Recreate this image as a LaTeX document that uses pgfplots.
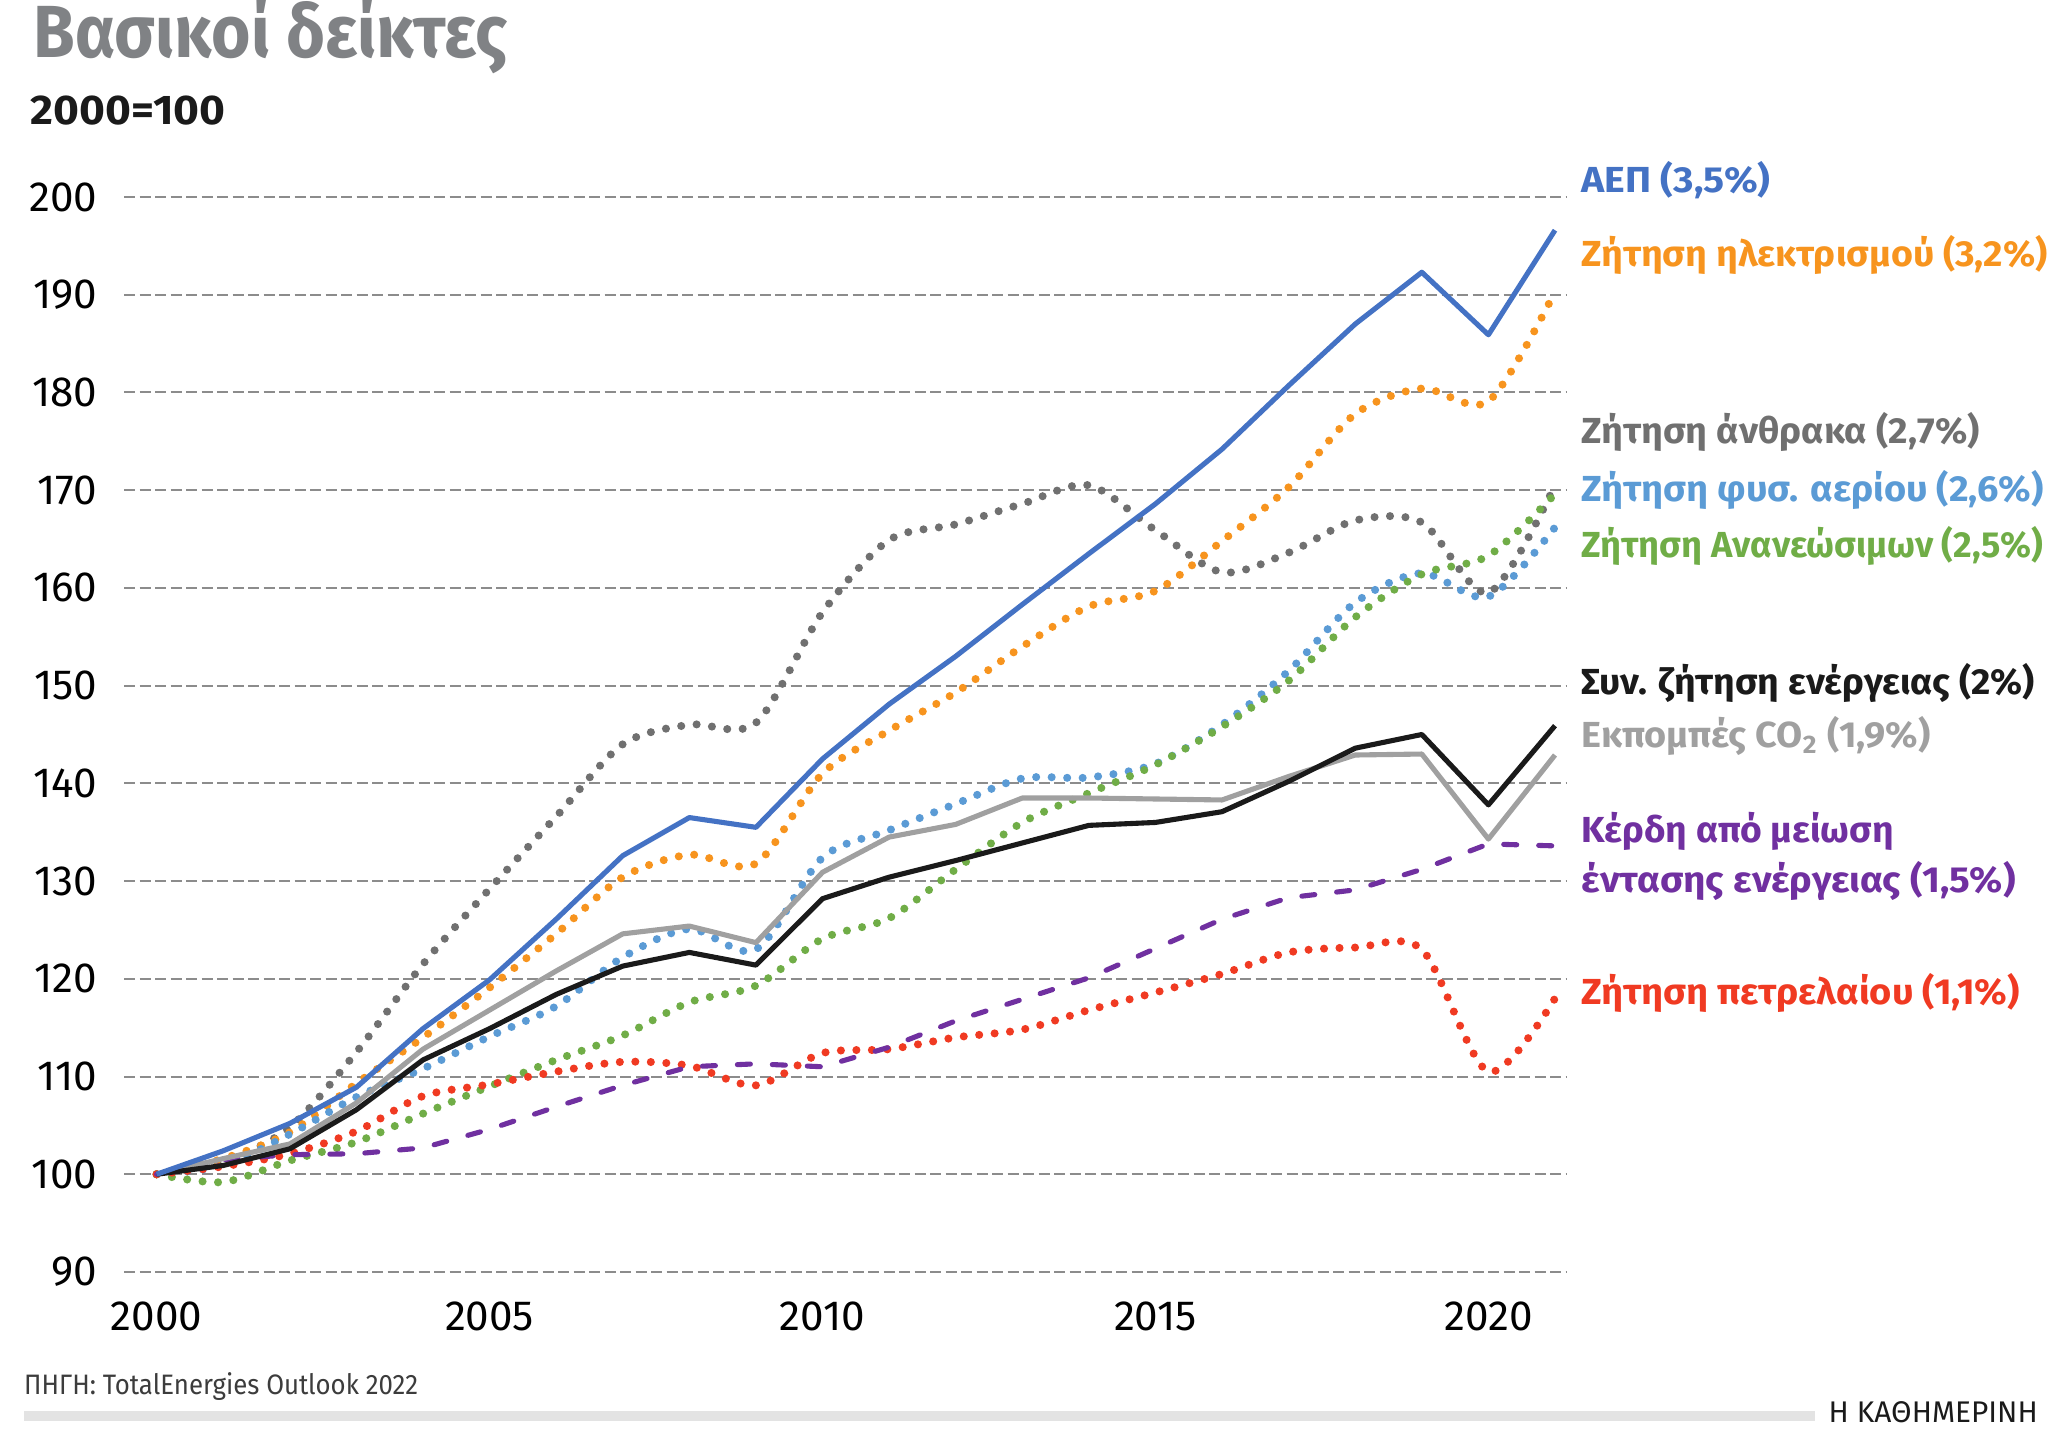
\documentclass[border=0pt]{standalone}
\usepackage{pgfplots}
\pgfplotsset{compat=1.18}
\usepackage{graphicx}
\usepackage{fontspec}
\setmainfont{Fira Sans}

\definecolor{titlegray}{HTML}{808285}
\definecolor{gridgray}{HTML}{8C8C8C}
\definecolor{cAEP}{HTML}{4472C4}
\definecolor{cElec}{HTML}{F7941E}
\definecolor{cCoal}{HTML}{707070}
\definecolor{cGas}{HTML}{5B9BD5}
\definecolor{cRen}{HTML}{70AD47}
\definecolor{cTot}{HTML}{1A1A1A}
\definecolor{cCO}{HTML}{A0A0A0}
\definecolor{cInt}{HTML}{7030A0}
\definecolor{cOil}{HTML}{F03A22}

% squeeze text horizontally to a given width
\newcommand{\fw}[2]{\resizebox{#1}{\height}{#2}}

\begin{document}
\begin{tikzpicture}
\useasboundingbox (0,0) rectangle (20.48cm,14.40cm);

\begin{axis}[
   at={(1.24cm,1.68cm)}, anchor=south west,
   scale only axis,
   width=14.43cm, height=10.75cm,
   xmin=1999.51, xmax=2021.18,
   ymin=90, ymax=200,
   xtick={2000,2005,...,2020},
   ytick={90,100,...,200},
   xtick pos=bottom, ytick pos=left,
   axis line style={draw=none},
   tick style={draw=none},
   ymajorgrids,
   grid style={color=gridgray, line width=0.55pt, dash pattern=on 1.1mm off 0.45mm},
   /pgf/number format/1000 sep={},
   /pgf/number format/assume math mode=true,
   ticklabel style={font=\fontsize{12}{14}\selectfont, text=black},
   xticklabel style={anchor=center, yshift=-4.4mm},
   yticklabel style={anchor=east, inner sep=0pt, xshift=-2.6mm},
   clip=false,
   dotline/.style={line width=2.3pt, line cap=round, dash pattern=on 0pt off 1.55mm, smooth},
   solidline/.style={line width=1.45pt, line join=round},
]

% Ζήτηση άνθρακα
\addplot[dotline, cCoal] coordinates {
 (2000,100) (2001,101.3) (2002,104.8) (2003,112.5) (2004,121.5) (2005,129.2)
 (2006,136.6) (2007,144.0) (2008,146.0) (2009,146.2) (2010,157.5) (2011,164.9)
 (2012,166.5) (2013,168.6) (2014,170.5) (2015,165.9) (2016,161.6) (2017,163.6)
 (2018,166.9) (2019,166.7) (2020,159.5) (2021,170.5)
};
% Ζήτηση ηλεκτρισμού
\addplot[dotline, cElec] coordinates {
 (2000,100) (2001,101.6) (2002,104.3) (2003,109.3) (2004,114.0) (2005,119.1)
 (2006,124.6) (2007,130.4) (2008,132.7) (2009,131.8) (2010,141.0) (2011,145.4)
 (2012,149.3) (2013,154.0) (2014,158.1) (2015,159.7) (2016,164.8) (2017,170.3)
 (2018,177.8) (2019,180.4) (2020,179.1) (2021,190.3)
};
% Ζήτηση φυσ. αερίου
\addplot[dotline, cGas] coordinates {
 (2000,100) (2001,100.9) (2002,104.1) (2003,107.9) (2004,110.8) (2005,114.1)
 (2006,117.2) (2007,122.2) (2008,125.1) (2009,123.0) (2010,132.4) (2011,135.2)
 (2012,137.9) (2013,140.5) (2014,140.6) (2015,142.0) (2016,146.0) (2017,151.5)
 (2018,158.5) (2019,161.5) (2020,159.1) (2021,166.2)
};
% Ζήτηση Ανανεώσιμων
\addplot[dotline, cRen] coordinates {
 (2000,100) (2001,99.2) (2002,101.4) (2003,103.3) (2004,106.2) (2005,109.0)
 (2006,111.7) (2007,114.2) (2008,117.6) (2009,119.3) (2010,124.1) (2011,126.2)
 (2012,131.2) (2013,136.0) (2014,139.0) (2015,141.9) (2016,145.8) (2017,150.5)
 (2018,157.0) (2019,161.4) (2020,163.3) (2021,169.6)
};
% Ζήτηση πετρελαίου
\addplot[dotline, cOil] coordinates {
 (2000,100) (2001,100.8) (2002,102.1) (2003,104.4) (2004,108.0) (2005,109.2)
 (2006,110.5) (2007,111.5) (2008,111.1) (2009,109.1) (2010,112.4) (2011,112.8)
 (2012,114.0) (2013,114.8) (2014,116.8) (2015,118.6) (2016,120.5) (2017,122.7)
 (2018,123.2) (2019,123.0) (2020,110.5) (2021,118.0)
};
% Κέρδη από μείωση έντασης ενέργειας
\addplot[cInt, line width=1.45pt, line cap=round, dash pattern=on 1.3mm off 2.2mm] coordinates {
 (2000,100) (2001,101.5) (2002,102.0) (2003,102.1) (2004,102.7) (2005,104.6)
 (2006,106.9) (2007,109.1) (2008,111.0) (2009,111.3) (2010,111.0) (2011,113.0)
 (2012,115.7) (2013,117.9) (2014,120.1) (2015,123.1) (2016,126.1) (2017,128.3)
 (2018,129.1) (2019,131.2) (2020,133.8) (2021,133.6)
};
% Εκπομπές CO2
\addplot[solidline, cCO] coordinates {
 (2000,100) (2001,101.6) (2002,103.1) (2003,107.3) (2004,112.8) (2005,116.8)
 (2006,120.8) (2007,124.6) (2008,125.4) (2009,123.7) (2010,130.9) (2011,134.5)
 (2012,135.8) (2013,138.5) (2014,138.5) (2015,138.4) (2016,138.3) (2017,140.7)
 (2018,142.9) (2019,143.0) (2020,134.3) (2021,142.9)
};
% Συν. ζήτηση ενέργειας
\addplot[solidline, cTot] coordinates {
 (2000,100) (2001,100.9) (2002,102.6) (2003,106.6) (2004,111.7) (2005,114.9)
 (2006,118.4) (2007,121.3) (2008,122.7) (2009,121.4) (2010,128.2) (2011,130.4)
 (2012,132.1) (2013,133.9) (2014,135.7) (2015,136.0) (2016,137.1) (2017,140.2)
 (2018,143.6) (2019,145.0) (2020,137.8) (2021,145.9)
};
% ΑΕΠ
\addplot[solidline, cAEP] coordinates {
 (2000,100) (2001,102.4) (2002,105.2) (2003,108.9) (2004,114.9) (2005,119.9)
 (2006,126.1) (2007,132.6) (2008,136.5) (2009,135.5) (2010,142.5) (2011,148.1)
 (2012,153.0) (2013,158.3) (2014,163.5) (2015,168.6) (2016,174.2) (2017,180.7)
 (2018,187.0) (2019,192.3) (2020,185.9) (2021,196.6)
};
\end{axis}

% titles
\node[anchor=base west, inner sep=0pt] at (0.33cm,13.82cm)
  {\fw{4.74cm}{\fontsize{21}{24}\selectfont\bfseries\color{titlegray}Βασικοί δείκτες}};
\node[anchor=base west, inner sep=0pt] at (0.30cm,13.15cm)
  {\fw{1.95cm}{\fontsize{11.8}{14}\selectfont\bfseries\color{cTot}2000=100}};

% series labels
\begin{scope}[every node/.style={anchor=base west, inner sep=0pt}]
\node at (15.81cm,12.47cm) {\fw{1.89cm}{\fontsize{10.3}{12}\selectfont\bfseries\color{cAEP}ΑΕΠ (3,5\%)}};
\node at (15.81cm,11.73cm) {\fw{4.66cm}{\fontsize{10.3}{12}\selectfont\bfseries\color{cElec}Ζήτηση ηλεκτρισμού (3,2\%)}};
\node at (15.81cm,9.96cm) {\fw{3.98cm}{\fontsize{10.3}{12}\selectfont\bfseries\color{cCoal}Ζήτηση άνθρακα (2,7\%)}};
\node at (15.81cm,9.38cm) {\fw{4.62cm}{\fontsize{10.3}{12}\selectfont\bfseries\color{cGas}Ζήτηση φυσ. αερίου (2,6\%)}};
\node at (15.81cm,8.82cm) {\fw{4.61cm}{\fontsize{10.3}{12}\selectfont\bfseries\color{cRen}Ζήτηση Ανανεώσιμων (2,5\%)}};
\node at (15.81cm,7.45cm) {\fw{4.53cm}{\fontsize{10.3}{12}\selectfont\bfseries\color{cTot}Συν. ζήτηση ενέργειας (2\%)}};
\node at (15.81cm,6.92cm) {\fw{3.49cm}{\fontsize{10.3}{12}\selectfont\bfseries\color{cCO}Εκπομπές CO\textsubscript{2} (1,9\%)}};
\node at (15.81cm,5.97cm) {\fw{3.12cm}{\fontsize{10.3}{12}\selectfont\bfseries\color{cInt}Κέρδη από μείωση}};
\node at (15.81cm,5.47cm) {\fw{4.34cm}{\fontsize{10.3}{12}\selectfont\bfseries\color{cInt}έντασης ενέργειας (1,5\%)}};
\node at (15.81cm,4.35cm) {\fw{4.38cm}{\fontsize{10.3}{12}\selectfont\bfseries\color{cOil}Ζήτηση πετρελαίου (1,1\%)}};
\end{scope}

% footer
\node[anchor=base west, inner sep=0pt] at (0.235cm,0.45cm)
  {\fw{3.94cm}{\fontsize{8}{9}\selectfont\color{cTot!85}ΠΗΓΗ: TotalEnergies Outlook 2022}};
\fill[black!11] (0.235cm,0.19cm) rectangle (18.15cm,0.29cm);
\node[anchor=base west, inner sep=0pt] at (18.28cm,0.17cm)
  {\fw{2.09cm}{\fontsize{8.5}{10}\selectfont\color{cTot}Η ΚΑΘΗΜΕΡΙΝΗ}};
\end{tikzpicture}
\end{document}
